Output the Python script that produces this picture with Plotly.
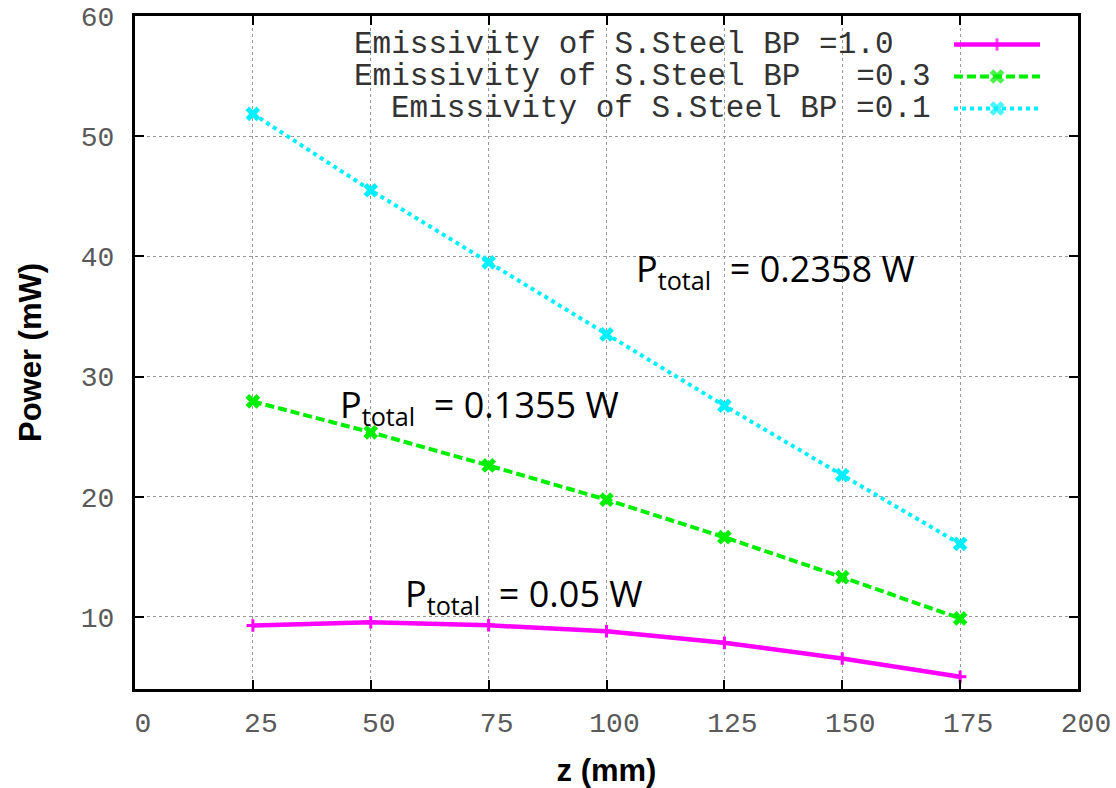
import plotly.graph_objects as go

# Axial position along the beam pipe (mm)
z_mm = [25, 50, 75, 100, 125, 150, 175]

# Radiated power per segment (mW) for three emissivity values
power_e10 = [9.28, 9.55, 9.30, 8.80, 7.84, 6.54, 5.02]
power_e03 = [27.93, 25.36, 22.60, 19.75, 16.63, 13.30, 9.87]
power_e01 = [51.86, 45.50, 39.50, 33.50, 27.57, 21.80, 16.07]

series_names = [
    "Emissivity of S.Steel BP =1.0\u00a0\u00a0",
    "Emissivity of S.Steel BP\u00a0\u00a0\u00a0=0.3",
    "Emissivity of S.Steel BP =0.1",
]
total_labels = ["0.05 W", "0.1355 W", "0.2358 W"]

x_ticks = [0, 25, 50, 75, 100, 125, 150, 175, 200]
y_ticks = [10, 20, 30, 40, 50, 60]

MONO = "Liberation Mono, Courier New, monospace"
W, H = 1116, 788
L, R, T, B = 135, 38, 16, 99

styles = [
    dict(color="#ff00ff", dash="solid", symbol="cross-thin", msize=9, lw=4.5),
    dict(color="#00ee00", dash="9px,4px", symbol="x", msize=13, lw=4),
    dict(color="#00f0ff", dash="4px,4px", symbol="x", msize=13, lw=4),
]
data = [power_e10, power_e03, power_e01]

fig = go.Figure()

for vals, st, name in zip(data, styles, series_names):
    marker = dict(symbol=st["symbol"], size=st["msize"], color=st["color"])
    if st["symbol"] == "cross-thin":
        marker["line"] = dict(color=st["color"], width=3)
    else:
        marker["line"] = dict(width=0)
    fig.add_trace(go.Scatter(
        x=z_mm, y=vals, mode="lines+markers", name=name, showlegend=False,
        line=dict(color=st["color"], width=st["lw"], dash=st["dash"]),
        marker=marker,
    ))

# Key samples drawn on a pixel-scaled overlay axis, text on the left
key_x0, key_x1, key_row0, key_dy = 954, 1040, 44.5, 32
for i, (st, name) in enumerate(zip(styles, series_names)):
    yk = key_row0 + i * key_dy
    marker = dict(symbol=st["symbol"], size=[0, st["msize"], 0], color=st["color"])
    if st["symbol"] == "cross-thin":
        marker["line"] = dict(color=st["color"], width=3)
    else:
        marker["line"] = dict(width=0)
    fig.add_trace(go.Scatter(
        x=[key_x0, (key_x0 + key_x1) / 2, key_x1], y=[yk, yk, yk],
        xaxis="x2", yaxis="y2", mode="lines+markers", showlegend=False,
        line=dict(color=st["color"], width=st["lw"], dash=st["dash"]),
        marker=marker, hoverinfo="skip",
    ))
    fig.add_annotation(
        x=933, y=yk, xref="x2", yref="y2", text=name, showarrow=False,
        xanchor="right", yanchor="middle",
        font=dict(family=MONO, size=31, color="#333333"),
    )

# Total power labels
label_pos = [(56.8, 11.8), (43.0, 27.5), (105.9, 38.8)]
for (lx, ly), txt in zip(label_pos, total_labels):
    fig.add_annotation(
        x=lx, y=ly, xref="x", yref="y", showarrow=False,
        xanchor="left", yanchor="middle",
        text="P<sub>total</sub>\u00a0\u00a0= " + txt,
        font=dict(family="Open Sans, sans-serif", size=36, color="#000000"),
    )

axis_common = dict(
    showline=True, linecolor="black", linewidth=3, mirror="ticks",
    ticks="inside", ticklen=9, tickwidth=2, tickcolor="black",
    showgrid=True, gridcolor="#9a9a9a", gridwidth=1, griddash="dot",
    zeroline=False, automargin=False,
    tickfont=dict(family=MONO, size=28, color="#5a5a5a"),
)

fig.update_layout(
    width=W, height=H,
    margin=dict(l=L, r=R, t=T, b=B),
    paper_bgcolor="white", plot_bgcolor="white",
    showlegend=False,
    xaxis=dict(
        range=[0, 200], tickvals=x_ticks, ticktext=[str(v) for v in x_ticks],
        title=dict(text="<b>z (mm)</b>", font=dict(family="Liberation Sans, Arial", size=31, color="black"), standoff=24),
        ticklabelstandoff=6, ticklabelshift=8,
        **axis_common,
    ),
    yaxis=dict(
        range=[4, 60], tickvals=y_ticks, ticktext=[str(v) for v in y_ticks],
        title=dict(text="<b>Power (mW)</b>", font=dict(family="Liberation Sans, Arial", size=31, color="black"), standoff=30),
        ticklabelstandoff=12,
        **axis_common,
    ),
    xaxis2=dict(overlaying="x", range=[L, W - R], visible=False, fixedrange=True),
    yaxis2=dict(overlaying="y", range=[H - B, T], visible=False, fixedrange=True),
)

fig.write_html("out.html")
